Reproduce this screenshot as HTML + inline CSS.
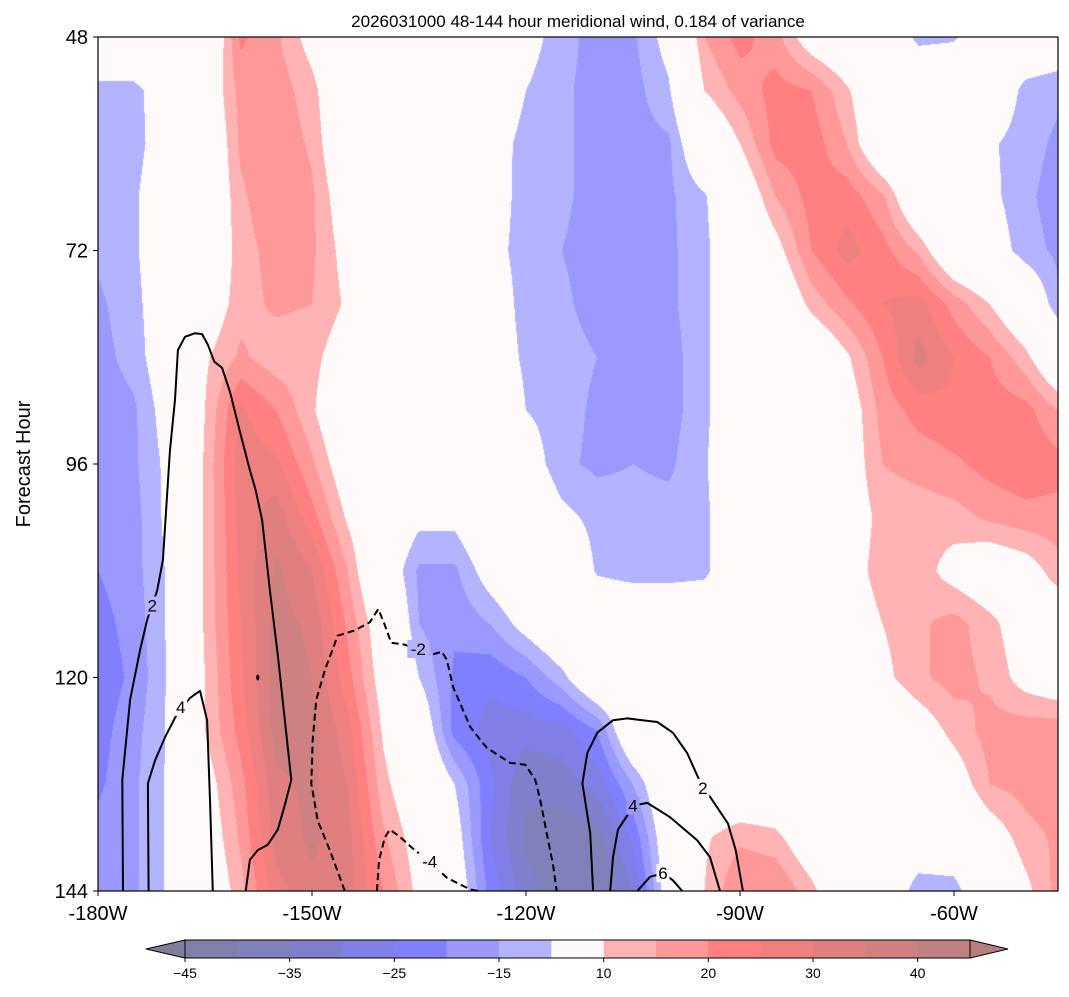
<!DOCTYPE html>
<html>
<head>
<meta charset="utf-8">
<style>
  html,body{margin:0;padding:0;background:#fff;}
  #wrap{position:relative;width:1069px;height:997px;overflow:hidden;background:#fff;font-family:"Liberation Sans","DejaVu Sans",sans-serif;}
  #field{position:absolute;left:98px;top:37px;}
  #overlay{position:absolute;left:0;top:0;}
</style>
</head>
<body>
<div id="wrap">
  <canvas id="field" width="960" height="854"></canvas>
  <svg id="overlay" width="1069" height="997" xmlns="http://www.w3.org/2000/svg">
    <text x="578" y="27" text-anchor="middle" font-size="17" fill="#000">2026031000 48-144 hour meridional wind, 0.184 of variance</text>
    <text transform="translate(30,464) rotate(-90)" text-anchor="middle" font-size="20" fill="#000">Forecast Hour</text>
    <g id="contours"></g>
    <g id="axes"></g>
    <g id="cbar"></g>
  </svg>
</div>
<script>
// ---------- data ----------
const lons = [-180,-175,-170,-165,-160,-155,-150,-145,-140,-135,-130,-125,-120,-115,-110,-105,-100,-95,-90,-85,-80,-75,-70,-65,-60,-55,-50,-45.42];
const hours = [48,54,60,66,72,78,84,90,96,102,108,114,120,126,132,138,144];
const windField = [
 [0,0,0,-2,21,16,7,0,0,0,0,0,-7,-13,-17,-16,-7,15,22,17,5,0,0,-12,-11,-2,-2,-3],
 [-12,-12,-5,3,17,18,12,0,0,0,0,0,-10,-14,-17,-17,-11,10,17,22,20,11,0,0,0,-2,-12,-14],
 [-12,-12,-6,0,16,19,14,0,0,0,0,-5,-13,-14,-17,-17,-16,0,10,22,23,15,0,0,0,-9,-13,-16],
 [-12,-11,-4,0,14,19,16,4,0,0,0,-7,-12,-14,-17,-17,-16,-11,2,15,22,23,16,0,0,-8,-14,-17],
 [-14,-11,-4,0,13,17,16,7,0,0,0,-8,-12,-15,-17,-17,-16,-12,0,7,20,27,22,14,0,-5,-13,-16],
 [-16,-12,-4,4,13,16,15,9,0,0,0,-6,-12,-14,-17,-17,-16,-12,0,0,12,19,25,27,18,10,0,-14],
 [-17,-13,-4,9,16,12,12,5,0,0,0,-6,-11,-13,-15,-17,-17,-12,0,0,0,9,20,32,25,20,12,0],
 [-18,-16,-6,10,26,20,11,0,0,0,0,-3,-10,-13,-16,-17,-17,-12,0,0,0,5,17,22,24,23,22,15],
 [-18,-16,-8,11,28,26,16,4,0,0,0,0,-5,-14,-16,-15,-16,-11,0,0,0,5,15,17,19,22,24,22],
 [-18,-17,-8,11,27,33,22,9,0,-8,-8,0,0,-8,-12,-13,-13,-12,0,0,0,5,12,12,13,16,18,18],
 [-20,-17,-9,11,26,36,30,15,-3,-16,-16,-6,0,0,-11,-13,-13,-12,0,0,0,6,13,13,7,3,6,13],
 [-22,-18,-9,11,25,37,34,19,4,-15,-19,-15,-7,0,0,0,0,0,0,0,0,4,10,14,17,12,5,3],
 [-23,-19,-9,10,24,38,35,22,6,-10,-21,-24,-20,-12,0,0,0,0,0,0,0,0,8,14,17,14,7,4],
 [-22,-17,-9,10,22,37,37,27,9,-2,-22,-27,-28,-27,-20,0,0,0,0,0,0,0,0,5,12,17,18,18],
 [-21,-16,-9,6,18,34,36,30,12,2,-10,-24,-34,-33,-28,-15,0,0,0,0,0,0,0,0,5,15,17,18],
 [-18,-16,-9,4,16,32,36,32,16,6,-6,-25,-36,-38,-37,-24,-3,9,14,12,3,0,0,-2,-2,5,13,16],
 [-18,-16,-9,2,13,28,34,32,20,8,-3,-22,-33,-40,-40,-30,-5,10,20,20,12,0,0,-14,-13,0,8,17]
];
const levels = [-45,-40,-35,-30,-25,-20,-15,-10,10,15,20,25,30,35,40,45];
const levelColors = ['#7f7fab','#8080bb','#7f7fcd','#7f7fe5','#8080ff','#9999ff','#b3b3ff','#fffafa','#ffb3b3','#ff9999','#ff8080','#ef8080','#df8080','#cf8080','#bf8080'];
const underColor = '#7f7f9a';
const overColor = '#b57f7f';
const cbTickValues = [-45,-35,-25,-15,10,20,30,40];
const xTickValues = [-180,-150,-120,-90,-60];
const xTickLabels = ['-180W','-150W','-120W','-90W','-60W'];
const yTickValues = [48,72,96,120,144];

// contour lines [lon, hour]
const contourPos2Left = [[-176.5,144],[-176.6,131.5],[-175.5,122.5],[-174.1,116.9],[-173.1,113.5],[-171.7,110.2],[-170.9,106.8],[-169.9,94.4],[-169.2,88.8],[-168.8,83.2],[-167.8,81.7],[-166.4,81.3],[-165.4,81.4],[-164.6,82.6],[-163.7,84.5],[-162.6,85.2],[-161.5,87.9],[-160.1,92.4],[-158.7,96.7],[-157.9,98.9],[-157.0,102.3],[-155.9,110.2],[-154.8,117.5],[-152.9,131.5],[-153.8,134.3],[-154.8,137.1],[-156.2,138.8],[-157.6,139.4],[-158.7,140.5],[-159.3,144]];
const contourPos4Left = [[-172.9,144],[-173.0,131.9],[-172.0,129.3],[-170.6,126.7],[-168.8,123.9],[-167.1,122.3],[-165.7,121.5],[-164.7,124.8],[-164.3,133.8],[-163.9,144]];
const contourNeg2 = [[-145.4,144],[-147.5,139.4],[-149.2,136.1],[-150.1,131.9],[-149.9,127.0],[-149.4,122.5],[-148.2,119.2],[-146.4,115.3],[-144.0,114.7],[-141.9,113.8],[-140.7,112.3],[-139.8,114.1],[-138.9,116.1],[-137.0,116.3],[-133.5,117.5],[-131.8,117.1],[-131.1,118.0],[-130.2,121.1],[-127.8,125.6],[-125.5,127.9],[-122.2,129.6],[-120.1,129.8],[-118.7,131.5],[-118.0,133.8],[-117.1,137.5],[-116.2,141.1],[-115.7,144]];
const contourNeg4 = [[-140.9,144],[-140.6,140.5],[-139.8,138.0],[-139.1,137.1],[-137.7,137.9],[-135.6,139.4],[-133.5,140.7],[-131.1,142.5],[-127.9,143.8],[-126.7,144]];
const contourPos2Right = [[-110.6,144],[-111.0,137.5],[-112.1,131.9],[-111.4,128.5],[-110.0,126.2],[-107.8,124.8],[-105.8,124.6],[-101.6,125.0],[-99.4,126.2],[-97.4,128.5],[-96.0,131.0],[-95.2,132.4],[-94.2,133.4],[-91.7,136.4],[-90.6,139.4],[-89.6,144]];
const contourPos4Right = [[-108.2,144],[-107.8,140.2],[-107.1,137.1],[-105.8,135.5],[-105.0,134.4],[-103.0,134.1],[-99.8,135.7],[-96.0,138.3],[-94.2,140.2],[-92.8,144]];
const contourPos6 = [[-104.4,144],[-102.6,142.4],[-100.8,142.0],[-99.4,142.8],[-98.1,144]];
const contourLabelText = ['2','4','-2','-4','2','4','6'];
const contourLabelPos = [[-172.4,111.9],[-168.4,123.3],[-135.1,116.8],[-133.5,140.7],[-95.2,132.4],[-105.0,134.4],[-100.8,142.0]];

// ---------- scales ----------
const PX0 = 98, PX1 = 1058, PY0 = 37, PY1 = 891;
const LON0 = -180, LON1 = -45.42, H0 = 48, H1 = 144;
function xScale(lon){ return PX0 + (lon - LON0) * (214/30); }
function yScale(h){ return PY0 + (h - H0) * ((PY1-PY0)/(H1-H0)); }
function xInv(px){ return LON0 + (px - PX0) / (214/30); }
function yInv(py){ return H0 + (py - PY0) / ((PY1-PY0)/(H1-H0)); }

// ---------- field ----------
function hex2rgb(h){ return [parseInt(h.substr(1,2),16),parseInt(h.substr(3,2),16),parseInt(h.substr(5,2),16)]; }
const rgbLevels = levelColors.map(hex2rgb);
const rgbUnder = hex2rgb(underColor), rgbOver = hex2rgb(overColor);
function findIdx(arr, v){
  if (v <= arr[0]) return [0,0];
  if (v >= arr[arr.length-1]) return [arr.length-2,1];
  for (let i=0;i<arr.length-1;i++){ if (v>=arr[i] && v<=arr[i+1]) return [i,(v-arr[i])/(arr[i+1]-arr[i])]; }
  return [arr.length-2,1];
}
function valueAt(lon,h){
  const [i,tx] = findIdx(lons,lon);
  const [j,ty] = findIdx(hours,h);
  const a = windField[j][i], b = windField[j][i+1], c = windField[j+1][i], d = windField[j+1][i+1];
  return (a*(1-tx)+b*tx)*(1-ty) + (c*(1-tx)+d*tx)*ty;
}
function rgbFor(v){
  if (v < levels[0]) return rgbUnder;
  if (v >= levels[levels.length-1]) return rgbOver;
  for (let k=0;k<levels.length-1;k++){ if (v < levels[k+1]) return rgbLevels[k]; }
  return rgbOver;
}
(function drawField(){
  const cv = document.getElementById('field');
  const ctx = cv.getContext('2d');
  const W = cv.width, H = cv.height;
  const img = ctx.createImageData(W,H);
  const lonCol = new Array(W), hRow = new Array(H);
  for (let x=0;x<W;x++) lonCol[x] = xInv(PX0 + x + 0.5);
  for (let y=0;y<H;y++) hRow[y] = yInv(PY0 + y + 0.5);
  let p = 0;
  for (let y=0;y<H;y++){
    for (let x=0;x<W;x++){
      const c = rgbFor(valueAt(lonCol[x], hRow[y]));
      img.data[p++] = c[0]; img.data[p++] = c[1]; img.data[p++] = c[2]; img.data[p++] = 255;
    }
  }
  ctx.putImageData(img,0,0);
})();

// ---------- svg ----------
const NS = 'http://www.w3.org/2000/svg';
function mk(tag, attrs, parent){
  const el = document.createElementNS(NS, tag);
  for (const k in attrs) el.setAttribute(k, attrs[k]);
  parent.appendChild(el);
  return el;
}
const gC = document.getElementById('contours');
function drawLine(pts, dashed, name){
  const d = pts.map((p,k)=>(k?'L':'M')+xScale(p[0]).toFixed(1)+','+yScale(p[1]).toFixed(1)).join(' ');
  const el = mk('path',{d:d,fill:'none',stroke:'#000','stroke-width':2,'stroke-dasharray':dashed?'7,4':'none','stroke-linejoin':'round'},gC);
  
  
}
drawLine(contourPos2Left,false,'contour-line-2-left');
drawLine(contourPos4Left,false,'contour-line-4-left');
drawLine(contourNeg2,true,'contour-line-neg2');
drawLine(contourNeg4,true,'contour-line-neg4');
drawLine(contourPos2Right,false,'contour-line-2-right');
drawLine(contourPos4Right,false,'contour-line-4-right');
drawLine(contourPos6,false,'contour-line-6');
const dot = mk('ellipse',{cx:xScale(-157.6),cy:yScale(120),rx:1.6,ry:3,fill:'#000'},gC);


contourLabelText.forEach((t,k)=>{
  const lon = contourLabelPos[k][0], h = contourLabelPos[k][1];
  const x = xScale(lon), y = yScale(h);
  const c = rgbFor(valueAt(lon,h));
  const w = t.length > 1 ? 22 : 13;
  const bg = mk('rect',{x:x-w/2,y:y-9,width:w,height:18,fill:`rgb(${c[0]},${c[1]},${c[2]})`},gC);
  
  
  const el = mk('text',{x:x,y:y+6,'text-anchor':'middle','font-size':17,fill:'#000'},gC);
  el.textContent = t;
  
  
});

// axes
const gA = document.getElementById('axes');
const frame = mk('rect',{x:PX0,y:PY0,width:PX1-PX0,height:PY1-PY0,fill:'none',stroke:'#000','stroke-width':1.2},gA);


xTickValues.forEach((v,k)=>{
  const x = xScale(v);
  const t = mk('line',{x1:x,y1:PY1,x2:x,y2:PY1+5,stroke:'#000','stroke-width':1},gA);
  
  
  const l = mk('text',{x:x,y:PY1+29,'text-anchor':'middle','font-size':20,fill:'#000'},gA);
  l.textContent = xTickLabels[k];
  
  
});
yTickValues.forEach(v=>{
  const y = yScale(v);
  const t = mk('line',{x1:PX0-5,y1:y,x2:PX0,y2:y,stroke:'#000','stroke-width':1},gA);
  
  
  const l = mk('text',{x:PX0-10,y:y+7,'text-anchor':'end','font-size':20,fill:'#000'},gA);
  l.textContent = String(v);
  
  
});

// colorbar
const gB = document.getElementById('cbar');
const CB0 = 185, CB1 = 970, CBY0 = 940, CBY1 = 958;
function cbX(v){
  const i = levels.indexOf(v);
  return CB0 + i * (CB1-CB0)/(levels.length-1);
}
levelColors.forEach((c,k)=>{
  const x0 = cbX(levels[k]), x1 = cbX(levels[k+1]);
  const r = mk('rect',{x:x0,y:CBY0,width:x1-x0+0.5,height:CBY1-CBY0,fill:c},gB);
  
  
});
const triL = mk('polygon',{points:`${CB0},${CBY0} 146,${(CBY0+CBY1)/2} ${CB0},${CBY1}`,fill:underColor,stroke:'#000','stroke-width':1},gB);


const triR = mk('polygon',{points:`${CB1},${CBY0} 1008,${(CBY0+CBY1)/2} ${CB1},${CBY1}`,fill:overColor,stroke:'#000','stroke-width':1},gB);


const cbFrame = mk('rect',{x:CB0,y:CBY0,width:CB1-CB0,height:CBY1-CBY0,fill:'none',stroke:'#000','stroke-width':1},gB);


cbTickValues.forEach(v=>{
  const x = cbX(v);
  const t = mk('line',{x1:x,y1:CBY1,x2:x,y2:CBY1+4,stroke:'#000','stroke-width':1},gB);
  
  
  const l = mk('text',{x:x,y:CBY1+20,'text-anchor':'middle','font-size':14,fill:'#000'},gB);
  l.textContent = v < 0 ? '\u2212' + Math.abs(v) : String(v);
  
  
});
</script>
</body>
</html>
